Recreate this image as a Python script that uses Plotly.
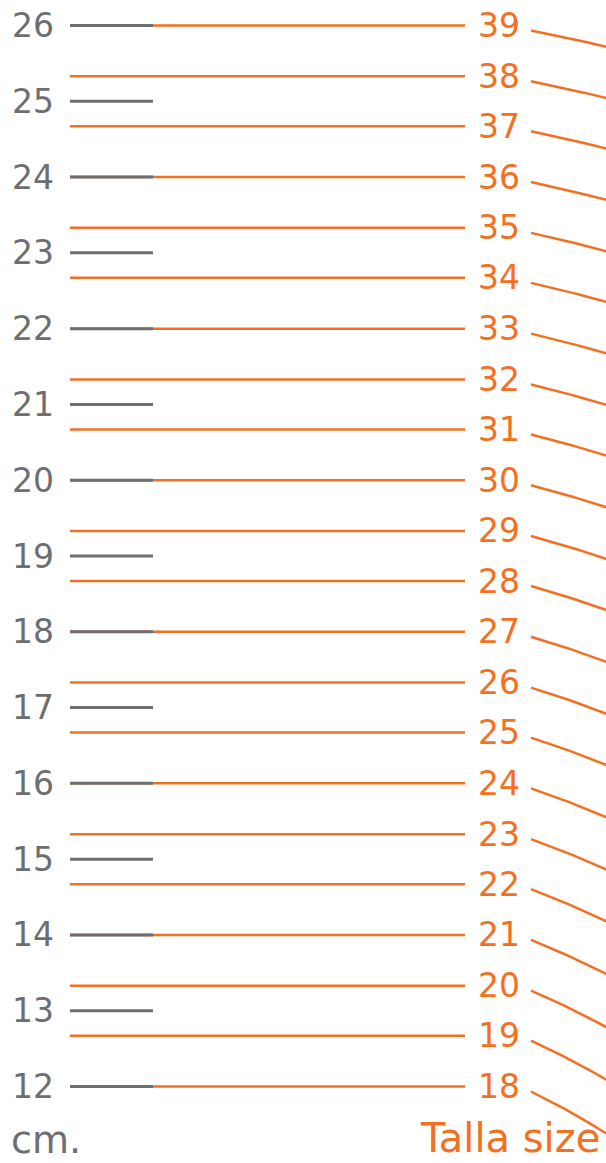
import numpy as np
import plotly.graph_objects as go

# ---- data ----
cm_ticks = [12, 13, 14, 15, 16, 17, 18, 19, 20, 21, 22, 23, 24, 25, 26]
sizes = [18, 19, 20, 21, 22, 23, 24, 25, 26, 27, 28, 29, 30, 31, 32, 33, 34, 35, 36, 37, 38, 39]
size_cm = [12.0, 12.67, 13.33, 14.0, 14.67, 15.33, 16.0, 16.67, 17.33, 18.0, 18.67,
           19.33, 20.0, 20.67, 21.33, 22.0, 22.67, 23.33, 24.0, 24.67, 25.33, 26.0]
cm_unit_label = "cm."
size_unit_label = "Talla size"

# ---- style ----
W, H = 606, 1163
ORANGE = "#f36f21"
GREY = "#6d6e71"
FONT = "DejaVu Sans"
PX_PER_CM = 75.8
Y0_PX = 1086.5  # pixel row of 12 cm
TOP_PX = 25.5   # pixel row of 26 cm
y_lo = 12 - (H - Y0_PX) / PX_PER_CM
y_hi = 26 + TOP_PX / PX_PER_CM

def px_to_cm(ypx):
    return 12 + (Y0_PX - ypx) / PX_PER_CM

def cm_to_px(c):
    return Y0_PX - (c - 12) * PX_PER_CM

fig = go.Figure()

# orange size lines
xs, ys = [], []
for c in size_cm:
    xs += [70, 465, None]
    ys += [c, c, None]
fig.add_trace(go.Scatter(x=xs, y=ys, mode="lines",
                         line=dict(color=ORANGE, width=2.5), hoverinfo="skip"))

# grey cm ticks
xs, ys = [], []
for c in cm_ticks:
    xs += [70, 153, None]
    ys += [c, c, None]
fig.add_trace(go.Scatter(x=xs, y=ys, mode="lines",
                         line=dict(color=GREY, width=3), hoverinfo="skip"))

# curved leader lines (arcs around a common far centre)
cx, cy = 191.0, 1790.0
xs, ys = [], []
for c in size_cm:
    x0 = 531.0
    y0 = cm_to_px(c) + 5
    R = np.hypot(x0 - cx, cy - y0)
    xx = np.linspace(x0, 612, 40)
    yy = cy - np.sqrt(R ** 2 - (xx - cx) ** 2)
    xs += list(xx) + [None]
    ys += [px_to_cm(v) for v in yy] + [None]
fig.add_trace(go.Scatter(x=xs, y=ys, mode="lines",
                         line=dict(color=ORANGE, width=2.5), hoverinfo="skip"))

annotations = []
for c in cm_ticks:
    annotations.append(dict(x=33, y=c, xref="x", yref="y", text=str(c), showarrow=False,
                            xanchor="center", yanchor="middle",
                            font=dict(family=FONT, size=33, color=GREY)))
for s, c in zip(sizes, size_cm):
    annotations.append(dict(x=476, y=c, xref="x", yref="y", text=str(s), showarrow=False,
                            xanchor="left", yanchor="middle",
                            font=dict(family=FONT, size=33, color=ORANGE)))
annotations.append(dict(x=9, y=px_to_cm(1140), xref="x", yref="y", text=cm_unit_label,
                        showarrow=False, xanchor="left", yanchor="middle",
                        font=dict(family=FONT, size=38, color=GREY)))
annotations.append(dict(x=602, y=px_to_cm(1163), xref="x", yref="y", text=size_unit_label,
                        showarrow=False, xanchor="right", yanchor="bottom",
                        font=dict(family=FONT, size=40, color=ORANGE)))

fig.update_layout(
    width=W, height=H,
    margin=dict(l=0, r=0, t=0, b=0),
    paper_bgcolor="white", plot_bgcolor="white",
    showlegend=False,
    xaxis=dict(range=[0, W], visible=False, fixedrange=True),
    yaxis=dict(range=[y_lo, y_hi], visible=False, fixedrange=True),
    annotations=annotations,
)

fig.write_html("out.html", config={"displayModeBar": False},
               post_script="document.body.style.margin='0';document.body.style.overflow='hidden';")
